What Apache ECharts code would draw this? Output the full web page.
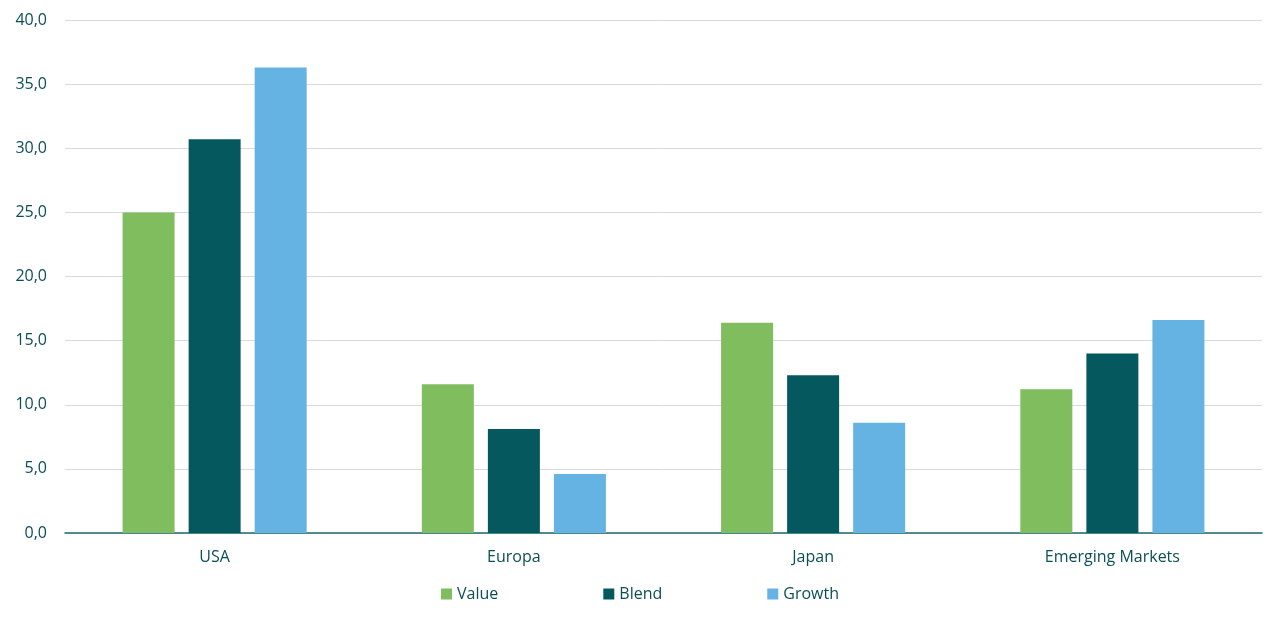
<!DOCTYPE html>
<html><head><meta charset="utf-8">
<script src="https://cdn.jsdelivr.net/npm/echarts@6/dist/echarts.min.js"></script>
<style>html,body{margin:0;padding:0;background:#fff}#c{width:1280px;height:625px}</style>
</head><body><div id="c"></div>
<script>
const categories = ['USA', 'Europa', 'Japan', 'Emerging Markets'];
const valueData = [25.0, 11.6, 16.4, 11.2];
const blendData = [30.7, 8.1, 12.3, 14.0];
const growthData = [36.3, 4.6, 8.6, 16.6];
const seriesNames = ['Value', 'Blend', 'Growth'];
const colors = ['#7FBD5E', '#05585E', '#65B3E3'];
const txt = '#0B4F55';
const chart = echarts.init(document.getElementById('c'));
chart.setOption({
  color: colors,
  textStyle: { fontFamily: 'Open Sans' },
  grid: { left: 65, right: 18, top: 20, bottom: 92 },
  legend: {
    bottom: 18, itemWidth: 11, itemHeight: 11, itemGap: 105, icon: 'rect',
    textStyle: { color: txt, fontSize: 16, fontFamily: 'Open Sans' },
    data: seriesNames
  },
  xAxis: {
    type: 'category', data: categories,
    axisLine: { lineStyle: { color: '#1F6B70', width: 1.5 } },
    axisTick: { show: false },
    axisLabel: { color: txt, fontSize: 16, margin: 16 }
  },
  yAxis: {
    type: 'value', min: 0, max: 40, interval: 5,
    axisLine: { show: false }, axisTick: { show: false },
    splitLine: { lineStyle: { color: '#DADADA' } },
    axisLabel: { color: txt, fontSize: 16, margin: 18, formatter: v => v.toFixed(1).replace('.', ',') }
  },
  series: [
    { name: seriesNames[0], type: 'bar', data: valueData, barWidth: 52, barGap: '27%' },
    { name: seriesNames[1], type: 'bar', data: blendData, barWidth: 52, barGap: '27%' },
    { name: seriesNames[2], type: 'bar', data: growthData, barWidth: 52, barGap: '27%' }
  ]
});
</script></body></html>
